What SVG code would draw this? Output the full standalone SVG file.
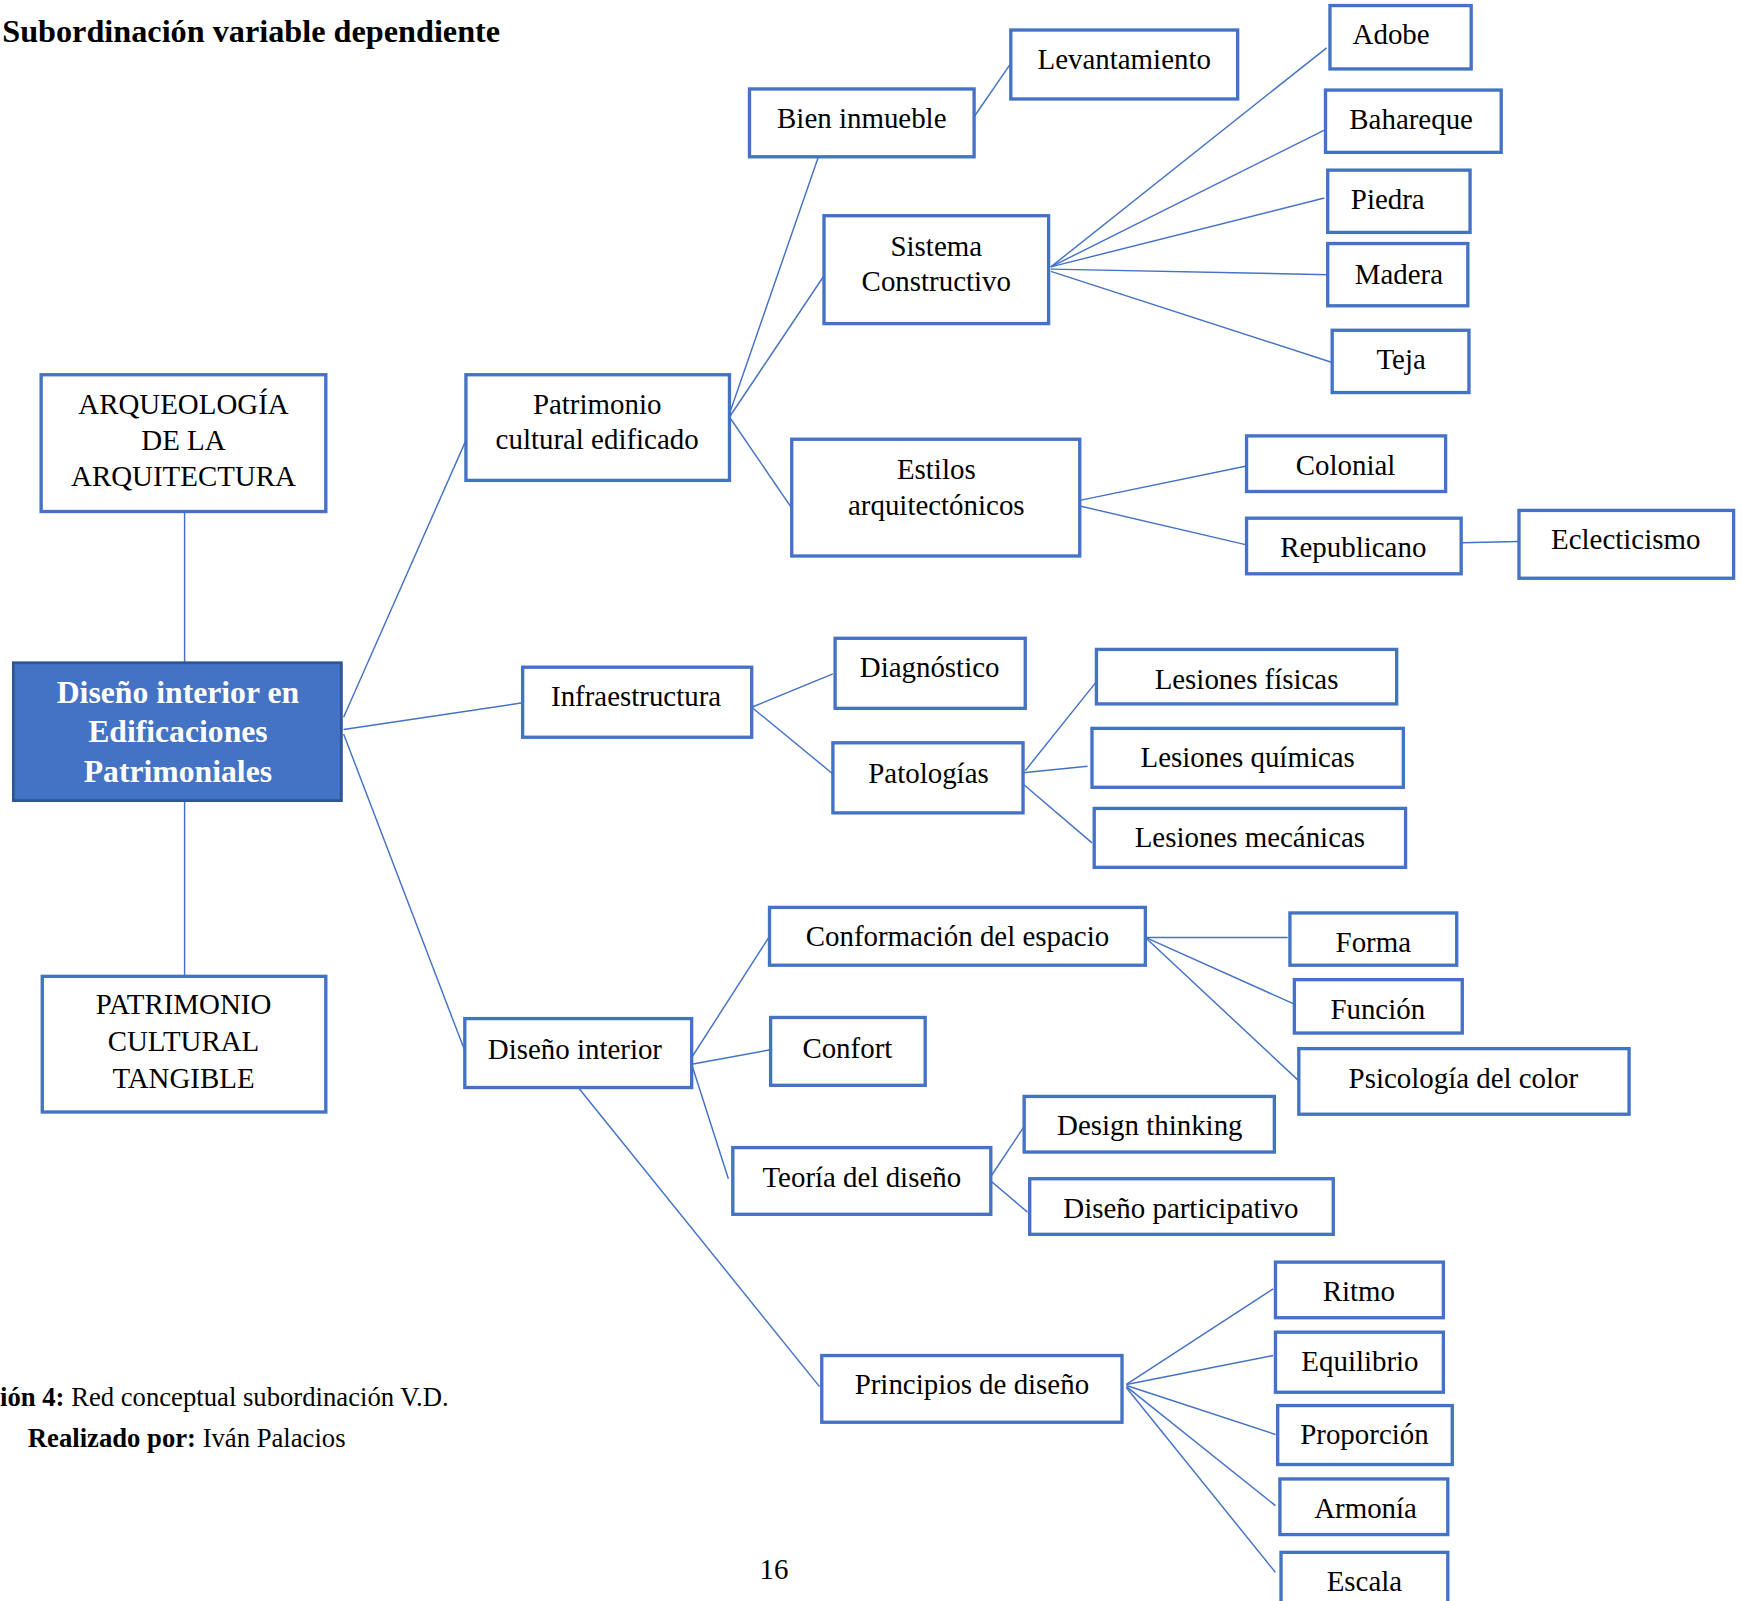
<svg xmlns="http://www.w3.org/2000/svg" width="1742" height="1601" viewBox="0 0 1742 1601">
<style>
.bx{fill:#fff;stroke:#4472C4;stroke-width:3}
.main{fill:#4472C4;stroke:#2F5597;stroke-width:2.5}
.t{font-family:"Liberation Serif","Times New Roman",serif;font-size:26px;fill:#000;text-anchor:middle}
.tw{font-family:"Liberation Serif","Times New Roman",serif;font-size:28.5px;font-weight:bold;fill:#fff;text-anchor:middle}
.cap{font-family:"Liberation Serif","Times New Roman",serif;font-size:24px;fill:#000}
.ln{stroke:#4472C4;stroke-width:1.3;fill:none}
</style>
<rect width="1742" height="1601" fill="#fff"/>
<g transform="scale(1.112)">
<text x="2" y="38" font-family="Liberation Serif, Times New Roman, serif" font-size="29" font-weight="bold">Subordinación variable dependiente</text>

<g id="connectors">
<line class="ln" x1="166" y1="460" x2="166" y2="596"/>
<line class="ln" x1="166" y1="720" x2="166" y2="878"/>
<line class="ln" x1="309" y1="645" x2="419" y2="396"/>
<line class="ln" x1="309" y1="656" x2="470" y2="632"/>
<line class="ln" x1="309" y1="660" x2="418" y2="945"/>
<line class="ln" x1="656" y1="372" x2="736" y2="141"/>
<line class="ln" x1="656" y1="375" x2="741" y2="248"/>
<line class="ln" x1="656" y1="375" x2="712" y2="457"/>
<line class="ln" x1="876" y1="105" x2="909" y2="57"/>
<line class="ln" x1="945" y1="240" x2="1193" y2="43"/>
<line class="ln" x1="945" y1="240" x2="1191" y2="117"/>
<line class="ln" x1="945" y1="240" x2="1191" y2="178"/>
<line class="ln" x1="945" y1="242" x2="1195" y2="247"/>
<line class="ln" x1="945" y1="244" x2="1198" y2="326"/>
<line class="ln" x1="971" y1="450" x2="1121" y2="419"/>
<line class="ln" x1="971" y1="455" x2="1121" y2="490"/>
<line class="ln" x1="1314" y1="488" x2="1366" y2="487"/>
<line class="ln" x1="676" y1="636" x2="749" y2="606"/>
<line class="ln" x1="676" y1="636" x2="749" y2="696"/>
<line class="ln" x1="922" y1="693" x2="986" y2="613"/>
<line class="ln" x1="920" y1="695" x2="978" y2="689"/>
<line class="ln" x1="920" y1="705" x2="982" y2="758"/>
<line class="ln" x1="622" y1="951" x2="692" y2="842"/>
<line class="ln" x1="622" y1="957" x2="693" y2="944"/>
<line class="ln" x1="622" y1="957" x2="655" y2="1060"/>
<line class="ln" x1="520" y1="978" x2="737" y2="1247"/>
<line class="ln" x1="1030" y1="843" x2="1158" y2="843"/>
<line class="ln" x1="1030" y1="843" x2="1164" y2="903"/>
<line class="ln" x1="1030" y1="843" x2="1168" y2="972"/>
<line class="ln" x1="891" y1="1058" x2="921" y2="1013"/>
<line class="ln" x1="891" y1="1062" x2="924" y2="1090"/>
<line class="ln" x1="1013" y1="1245" x2="1145" y2="1159"/>
<line class="ln" x1="1013" y1="1245" x2="1145" y2="1219"/>
<line class="ln" x1="1013" y1="1246" x2="1147" y2="1290"/>
<line class="ln" x1="1013" y1="1247" x2="1147" y2="1354"/>
<line class="ln" x1="1013" y1="1248" x2="1147" y2="1414"/>
</g>

<g id="n-arqueologia"><rect class="bx" x="37" y="337" width="256" height="123"/>
<text class="t" x="165" y="372">ARQUEOLOGÍA</text><text class="t" x="165" y="405">DE LA</text><text class="t" x="165" y="437">ARQUITECTURA</text></g>
<g id="n-main"><rect class="main" x="12" y="596" width="295" height="124"/>
<text class="tw" x="160" y="632">Diseño interior en</text><text class="tw" x="160" y="667">Edificaciones</text><text class="tw" x="160" y="703">Patrimoniales</text></g>
<g id="n-tangible"><rect class="bx" x="38" y="878" width="255" height="122"/>
<text class="t" x="165" y="912">PATRIMONIO</text><text class="t" x="165" y="945">CULTURAL</text><text class="t" x="165" y="978">TANGIBLE</text></g>

<g id="n-patrimonio"><rect class="bx" x="419" y="337" width="237" height="95"/>
<text class="t" x="537" y="372">Patrimonio</text><text class="t" x="537" y="404">cultural edificado</text></g>
<g id="n-bien"><rect class="bx" x="674" y="80" width="202" height="61"/><text class="t" x="775" y="115">Bien inmueble</text></g>
<g id="n-levantamiento"><rect class="bx" x="909" y="27" width="204" height="62"/><text class="t" x="1011" y="62">Levantamiento</text></g>
<g id="n-sistema"><rect class="bx" x="741" y="194" width="202" height="97"/>
<text class="t" x="842" y="230">Sistema</text><text class="t" x="842" y="262">Constructivo</text></g>
<g id="n-adobe"><rect class="bx" x="1196" y="5" width="127" height="57"/><text class="t" x="1251" y="40">Adobe</text></g>
<g id="n-bahareque"><rect class="bx" x="1192" y="81" width="158" height="56"/><text class="t" x="1269" y="116">Bahareque</text></g>
<g id="n-piedra"><rect class="bx" x="1194" y="153" width="128" height="56"/><text class="t" x="1248" y="188">Piedra</text></g>
<g id="n-madera"><rect class="bx" x="1194" y="219" width="126" height="56"/><text class="t" x="1258" y="255">Madera</text></g>
<g id="n-teja"><rect class="bx" x="1198" y="297" width="123" height="56"/><text class="t" x="1260" y="332">Teja</text></g>
<g id="n-estilos"><rect class="bx" x="712" y="395" width="259" height="105"/>
<text class="t" x="842" y="431">Estilos</text><text class="t" x="842" y="463">arquitectónicos</text></g>
<g id="n-colonial"><rect class="bx" x="1121" y="392" width="179" height="50"/><text class="t" x="1210" y="427">Colonial</text></g>
<g id="n-republicano"><rect class="bx" x="1121" y="466" width="193" height="50"/><text class="t" x="1217" y="501">Republicano</text></g>
<g id="n-eclecticismo"><rect class="bx" x="1366" y="459" width="193" height="61"/><text class="t" x="1462" y="494">Eclecticismo</text></g>

<g id="n-infraestructura"><rect class="bx" x="470" y="600" width="206" height="63"/><text class="t" x="572" y="635">Infraestructura</text></g>
<g id="n-diagnostico"><rect class="bx" x="751" y="574" width="171" height="63"/><text class="t" x="836" y="609">Diagnóstico</text></g>
<g id="n-patologias"><rect class="bx" x="749" y="668" width="171" height="63"/><text class="t" x="835" y="704">Patologías</text></g>
<g id="n-fisicas"><rect class="bx" x="986" y="584" width="270" height="49"/><text class="t" x="1121" y="620">Lesiones físicas</text></g>
<g id="n-quimicas"><rect class="bx" x="982" y="655" width="280" height="53"/><text class="t" x="1122" y="690">Lesiones químicas</text></g>
<g id="n-mecanicas"><rect class="bx" x="984" y="727" width="280" height="53"/><text class="t" x="1124" y="762">Lesiones mecánicas</text></g>

<g id="n-diseno"><rect class="bx" x="418" y="916" width="204" height="62"/><text class="t" x="517" y="952">Diseño interior</text></g>
<g id="n-conformacion"><rect class="bx" x="692" y="816" width="338" height="52"/><text class="t" x="861" y="851">Conformación del espacio</text></g>
<g id="n-forma"><rect class="bx" x="1160" y="821" width="150" height="47"/><text class="t" x="1235" y="856">Forma</text></g>
<g id="n-funcion"><rect class="bx" x="1164" y="881" width="151" height="48"/><text class="t" x="1239" y="916">Función</text></g>
<g id="n-psicologia"><rect class="bx" x="1168" y="943" width="297" height="59"/><text class="t" x="1316" y="978">Psicología del color</text></g>
<g id="n-confort"><rect class="bx" x="693" y="915" width="139" height="61"/><text class="t" x="762" y="951">Confort</text></g>
<g id="n-teoria"><rect class="bx" x="659" y="1032" width="232" height="60"/><text class="t" x="775" y="1067">Teoría del diseño</text></g>
<g id="n-design"><rect class="bx" x="921" y="986" width="225" height="50"/><text class="t" x="1034" y="1021">Design thinking</text></g>
<g id="n-participativo"><rect class="bx" x="926" y="1060" width="273" height="50"/><text class="t" x="1062" y="1095">Diseño participativo</text></g>
<g id="n-principios"><rect class="bx" x="739" y="1219" width="270" height="60"/><text class="t" x="874" y="1254">Principios de diseño</text></g>
<g id="n-ritmo"><rect class="bx" x="1147" y="1135" width="151" height="50"/><text class="t" x="1222" y="1170">Ritmo</text></g>
<g id="n-equilibrio"><rect class="bx" x="1147" y="1198" width="151" height="54"/><text class="t" x="1223" y="1233">Equilibrio</text></g>
<g id="n-proporcion"><rect class="bx" x="1149" y="1264" width="157" height="53"/><text class="t" x="1227" y="1299">Proporción</text></g>
<g id="n-armonia"><rect class="bx" x="1151" y="1330" width="151" height="50"/><text class="t" x="1228" y="1365">Armonía</text></g>
<g id="n-escala"><rect class="bx" x="1152" y="1396" width="150" height="60"/><text class="t" x="1227" y="1431">Escala</text></g>

<text class="cap" x="0" y="1264"><tspan font-weight="bold">ión 4:</tspan> Red conceptual subordinación V.D.</text>
<text class="cap" x="25" y="1301"><tspan font-weight="bold">Realizado por:</tspan> Iván Palacios</text>
<text class="t" x="696" y="1420">16</text>
</g>
</svg>
